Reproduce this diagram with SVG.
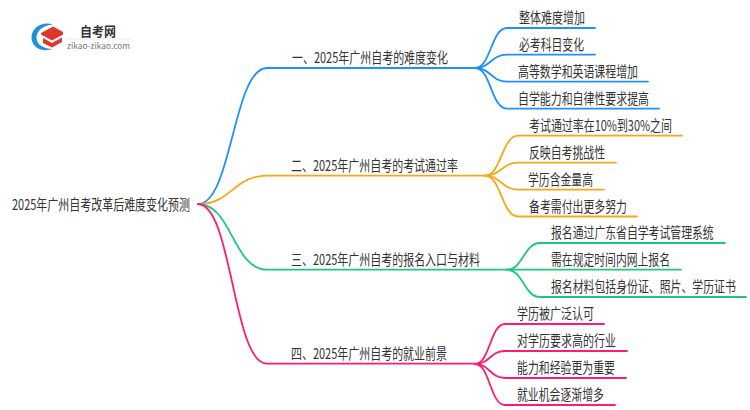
<svg xmlns="http://www.w3.org/2000/svg" width="750" height="410" viewBox="0 0 750 410">
<style>
text{font-family:"Noto Sans CJK SC","Noto Sans",sans-serif;font-size:15px;fill:#333}
path{fill:none;stroke-width:1.8;stroke-linecap:round}
.a path{stroke:#1e90ff}.b path{stroke:#faa61a}.c path{stroke:#1fc67e}.d path{stroke:#ff1a75}
</style>
<rect width="750" height="410" fill="#fff"/>
<g id="logo">
<path d="M53 24.200C40 21 31.500 29 31.500 37.500C31.500 46 40 53 53 49C44 49 36.500 45 36.500 37.500C36.500 30 44 25.500 53 24.200Z" style="fill:#1e90d8;stroke:none"/>
<polygon points="41,33 53,26.500 63,32 63,34.500 52,40.500 41,34.500" fill="#e0352b"/>
<polygon points="43,38 52,43 62,37.500 62,42 52,47.500 43,43" fill="#e0352b"/>
<path d="M67 39H130" style="stroke:#e8e8e8;stroke-width:1"/>
<text x="80" y="36" textLength="36" lengthAdjust="spacingAndGlyphs" style="font-size:13px;font-weight:700">自考网</text>
<text x="67" y="49" textLength="63" lengthAdjust="spacingAndGlyphs" style="font-size:8px;fill:#777">zikao-zikao.com</text>
</g>
<g id="connectors">
<g class="a">
<path d="M198 204C232 204 233 68 267 68H475"/>
<path d="M475 68C491 68 491 28 507 28H595"/><path d="M475 68C491 68 491 54.600 507 54.600H595"/>
<path d="M475 68C491 68 491 81.600 507 81.600H648"/><path d="M475 68C491 68 491 108.600 507 108.600H659"/>
</g>
<g class="b">
<path d="M198 204C232 204 233 175.700 267 175.700H485"/>
<path d="M485 175.700C501 175.700 502 135.700 518 135.700H682"/><path d="M485 175.700C501 175.700 502 162.700 518 162.700H616"/>
<path d="M485 175.700C501 175.700 502 189.700 518 189.700H604"/><path d="M485 175.700C501 175.700 502 216.500 518 216.500H637"/>
</g>
<g class="c">
<path d="M198 204C232 204 233 269.700 267 269.700H507"/>
<path d="M507 269.700C523 269.700 524 243 540 243H725"/><path d="M507 269.700H681"/>
<path d="M507 269.700C523 269.700 524 297 540 297H746"/>
</g>
<g class="d">
<path d="M198 204C232 204 233 363.700 267 363.700H475"/>
<path d="M475 364C490 364 490 324 505 324H604"/><path d="M475 364C490 364 490 351 505 351H627"/>
<path d="M475 364C490 364 490 378 505 378H626"/><path d="M475 364C490 364 490 405 505 405H615"/>
</g>
</g>
<g id="root"><text x="12" y="210" textLength="178" lengthAdjust="spacingAndGlyphs">2025年广州自考改革后难度变化预测</text></g>
<g id="n1"><text x="292" y="63" textLength="156" lengthAdjust="spacingAndGlyphs">一、2025年广州自考的难度变化</text></g>
<g id="n1-1"><text x="519" y="23" textLength="66" lengthAdjust="spacingAndGlyphs">整体难度增加</text></g>
<g id="n1-2"><text x="519" y="50" textLength="65" lengthAdjust="spacingAndGlyphs">必考科目变化</text></g>
<g id="n1-3"><text x="518" y="77" textLength="120" lengthAdjust="spacingAndGlyphs">高等数学和英语课程增加</text></g>
<g id="n1-4"><text x="518" y="104" textLength="131" lengthAdjust="spacingAndGlyphs">自学能力和自律性要求提高</text></g>
<g id="n2"><text x="291" y="171" textLength="167" lengthAdjust="spacingAndGlyphs">二、2025年广州自考的考试通过率</text></g>
<g id="n2-1"><text x="529" y="131" textLength="143" lengthAdjust="spacingAndGlyphs">考试通过率在10%到30%之间</text></g>
<g id="n2-2"><text x="529" y="158" textLength="76" lengthAdjust="spacingAndGlyphs">反映自考挑战性</text></g>
<g id="n2-3"><text x="528" y="185" textLength="65" lengthAdjust="spacingAndGlyphs">学历含金量高</text></g>
<g id="n2-4"><text x="529" y="212" textLength="98" lengthAdjust="spacingAndGlyphs">备考需付出更多努力</text></g>
<g id="n3"><text x="291" y="265" textLength="189" lengthAdjust="spacingAndGlyphs">三、2025年广州自考的报名入口与材料</text></g>
<g id="n3-1"><text transform="translate(551 238) scale(.724 1)">报名通过广东省自学考试管理系统</text></g>
<g id="n3-2"><text x="551" y="265" textLength="119" lengthAdjust="spacingAndGlyphs">需在规定时间内网上报名</text></g>
<g id="n3-3"><text transform="translate(551 292) scale(.725 1)">报名材料包括身份证、照片、学历证书</text></g>
<g id="n4"><text x="291" y="359" textLength="156" lengthAdjust="spacingAndGlyphs">四、2025年广州自考的就业前景</text></g>
<g id="n4-1"><text x="517" y="319" textLength="77" lengthAdjust="spacingAndGlyphs">学历被广泛认可</text></g>
<g id="n4-2"><text x="517" y="346" textLength="99" lengthAdjust="spacingAndGlyphs">对学历要求高的行业</text></g>
<g id="n4-3"><text x="517" y="373" textLength="98" lengthAdjust="spacingAndGlyphs">能力和经验更为重要</text></g>
<g id="n4-4"><text x="517" y="400" textLength="87" lengthAdjust="spacingAndGlyphs">就业机会逐渐增多</text></g>
</svg>
